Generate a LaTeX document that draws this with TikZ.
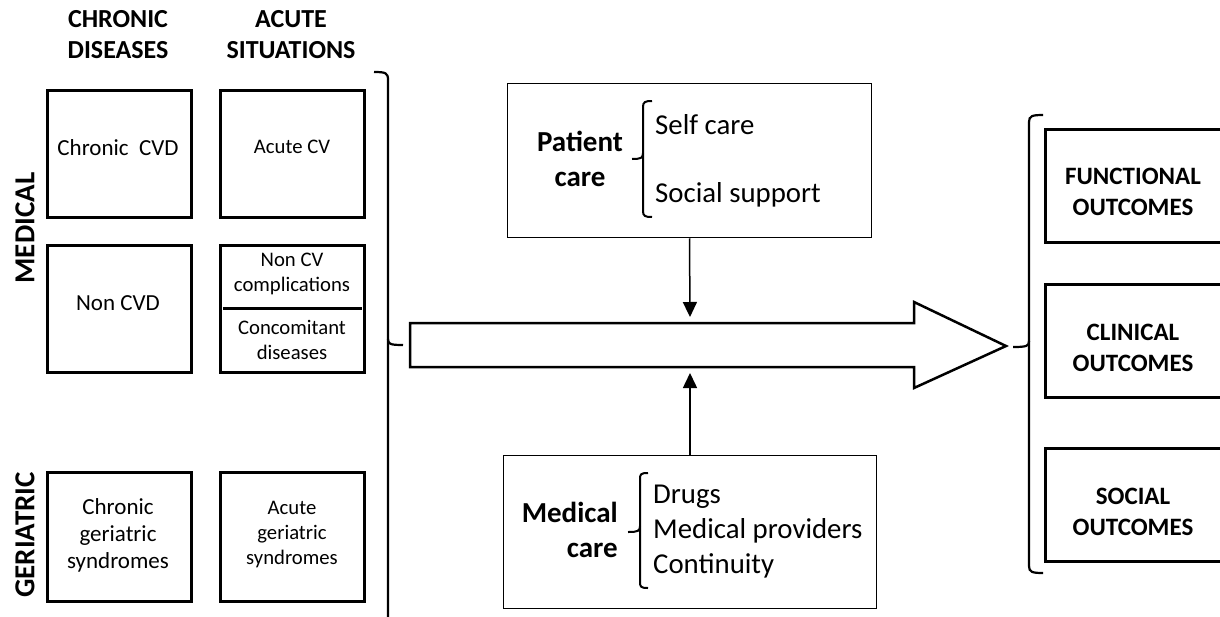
\documentclass[tikz,border=0pt]{standalone}
\usepackage{fontspec}
\setmainfont{Carlito}
\usetikzlibrary{arrows.meta}
\begin{document}
\begin{tikzpicture}[x=1pt,y=-1pt,
  cell/.style={draw, line width=3pt, inner sep=0pt, minimum width=144pt, minimum height=127pt},
  outbox/.style={draw, line width=3pt, inner sep=0pt, minimum width=177pt, minimum height=113pt},
  carebox/.style={draw, line width=1.5pt, inner sep=0pt},
  hdr/.style={align=center, font=\bfseries\fontsize{26}{31}\selectfont, inner sep=0pt},
  side/.style={rotate=90, font=\bfseries\fontsize{29}{34}\selectfont, inner sep=0pt},
  ctxt/.style={align=center, font=\fontsize{23}{27}\selectfont, inner sep=0pt},
  atxt/.style={align=center, font=\fontsize{20.7}{25}\selectfont, inner sep=0pt},
  otxt/.style={align=center, font=\bfseries\fontsize{25}{31}\selectfont, inner sep=0pt},
  bigtxt/.style={font=\fontsize{28.8}{35}\selectfont, inner sep=0pt},
  bigbold/.style={font=\bfseries\fontsize{29}{35}\selectfont, inner sep=0pt},
  brace/.style={line width=2.2pt},
  sbrace/.style={line width=2pt},
  conn/.style={line width=1.5pt, -{Triangle[width=14pt,length=15pt]}},
  bigarrow/.style={draw, line width=2.5pt, line join=miter}
]
\clip (0,0) rectangle (1220,616);

% headers
\node[hdr] (hchron) at (118,35) {CHRONIC\\DISEASES};
\node[hdr] (hacute) at (291,35) {ACUTE\\SITUATIONS};
\node[side] (lmed) at (25,228) {MEDICAL};
\node[side] (lger) at (25,535) {GERIATRIC};

% cells
\node[cell] (ccvd) at (119.5,153.5) {};
\node[cell] (acv) at (292.5,153.5) {};
\node[cell] (ncvd) at (119.5,308.5) {};
\node[cell] (ncv) at (292.5,308.5) {};
\node[cell, minimum height=129pt] (cger) at (119.5,537) {};
\node[cell, minimum height=129pt] (ager) at (292.5,537) {};

\node[ctxt] (tccvd) at (118,148) {Chronic\ \ CVD};
\node[atxt] (tacv) at (292,147) {Acute CV};
\node[ctxt] (tncvd) at (118,303) {Non CVD};
\node[atxt] (tncv) at (292,274) {Non CV\\complications};
\node[atxt] (tconc) at (292,340) {Concomitant\\diseases};
\draw[line width=3pt] ([xshift=4pt]ncv.west) -- ([xshift=-4pt]ncv.east);
\node[ctxt] (tcger) at (118,535) {Chronic\\geriatric\\syndromes};
\node[atxt] (tager) at (292,535) {Acute\\geriatric\\syndromes};

% left bracket
\draw[brace] (374,72) .. controls (386,72) and (388,73) .. (388,80) -- (388,620);
\draw[brace] (388,339) .. controls (388,344) and (390,345) .. (403,345);

% big arrow
\coordinate (ain1) at (690,317);
\coordinate (ain2) at (690,373);
\draw[bigarrow] (410,323) -- (914,323) -- (914,302) -- (1006,346) -- (914,388) -- (914,367) -- (410,367) -- cycle;

% patient care
\node[carebox, minimum width=364pt, minimum height=154pt] (pc) at (689.5,160.5) {};
\node[bigbold, align=center] (pcl) at (580,159) {Patient\\care};
\draw[sbrace] (652,101) .. controls (645,101) and (643,102) .. (643,107) -- (643,153) .. controls (643,158) and (641,159) .. (632,159);
\draw[sbrace] (643,153) -- (643,211) .. controls (643,216) and (645,217) .. (652,217);
\node[bigtxt, anchor=west] (self) at (655,125) {Self care};
\node[bigtxt, anchor=west] (social) at (655,195) {Social support};

% medical care
\node[carebox, minimum width=373pt, minimum height=153pt] (mc) at (690,532) {};
\node[bigbold, align=right, anchor=east] (mcl) at (618,530) {Medical\\care};
\draw[sbrace] (648,473) .. controls (641,473) and (640,474) .. (640,479) -- (640,526) .. controls (640,531) and (638,532) .. (628,532);
\draw[sbrace] (640,526) -- (640,582) .. controls (640,587) and (641,588) .. (648,588);
\node[bigtxt, anchor=west, align=left] (mitems) at (653,532) {Drugs\\Medical providers\\Continuity};

% connectors
\draw[conn] (pc.south) -- (ain1);
\draw[conn] (mc.north) -- (ain2);

% right brace
\draw[brace] (1043,115) .. controls (1032,115) and (1029,116) .. (1029,122) -- (1029,566) .. controls (1029,572) and (1032,573) .. (1043,573);
\draw[brace] (1029,341) .. controls (1029,346) and (1027,347) .. (1013,347);

% outcomes
\node[outbox] (fo) at (1134,186) {};
\node[outbox] (co) at (1134,341) {};
\node[outbox] (so) at (1134,505) {};
\node[otxt] (tfo) at (1133,192) {FUNCTIONAL\\OUTCOMES};
\node[otxt] (tco) at (1133,348) {CLINICAL\\OUTCOMES};
\node[otxt] (tso) at (1133,512) {SOCIAL\\OUTCOMES};
\end{tikzpicture}
\end{document}
